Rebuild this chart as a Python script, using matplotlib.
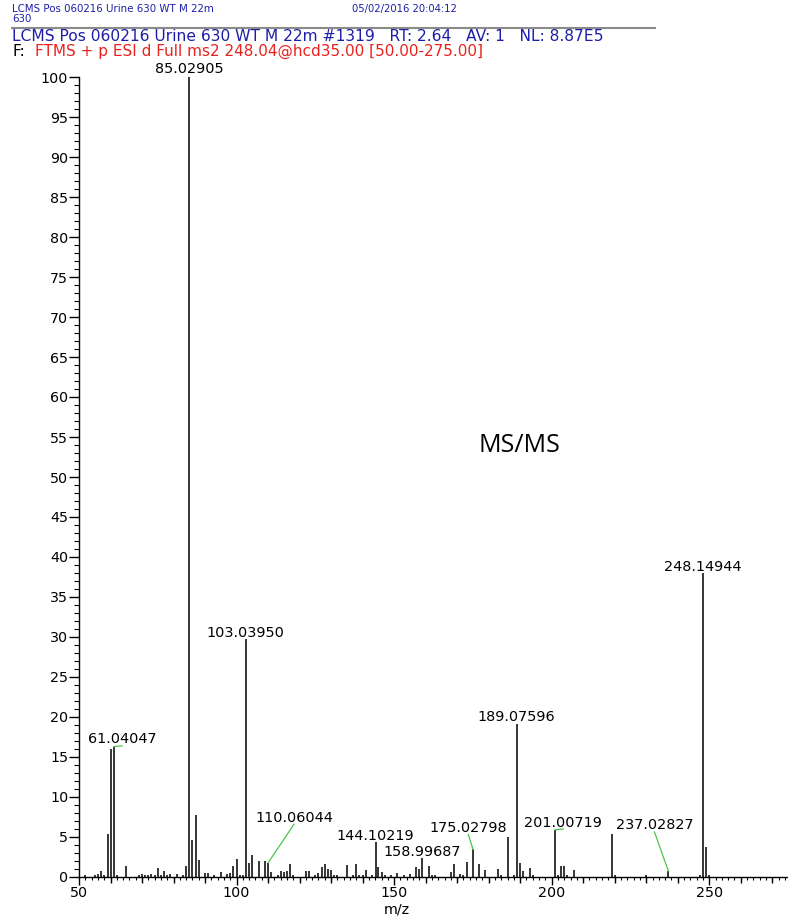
import matplotlib
matplotlib.use("Agg")
import matplotlib.pyplot as plt
from matplotlib.lines import Line2D
from matplotlib.ticker import MultipleLocator, FixedLocator

# spectrum peaks: m/z and relative abundance
mz = [51.9, 55.1, 56.1, 57.0, 58.0, 59.05, 60.04, 61.04047, 62.0, 65.0,
      69.0, 70.0, 71.0, 72.0, 73.0, 74.0, 75.0, 76.0, 77.0, 78.0,
      79.0, 81.0, 83.0, 84.0, 85.02905, 86.0, 87.0, 88.0, 90.0, 91.0,
      93.0, 95.0, 97.0, 98.0, 99.0, 100.0, 101.0, 102.0, 103.0395, 104.0,
      105.0, 107.0, 109.0, 110.06044, 111.0, 113.0, 114.0, 115.0, 116.0, 117.0,
      118.0, 122.0, 123.0, 125.0, 126.0, 127.0, 128.0, 129.0, 130.0, 131.0,
      132.0, 135.0, 137.0, 138.0, 139.0, 140.0, 141.0, 143.0, 144.10219, 145.0,
      146.0, 147.0, 149.0, 151.0, 153.0, 155.0, 157.0, 158.0, 158.99687, 161.0,
      162.0, 163.0, 168.0, 169.0, 171.0, 172.0, 173.0, 175.02798, 177.0, 179.0,
      183.0, 184.0, 186.0, 188.0, 189.07596, 190.0, 191.0, 193.0, 194.0,
      201.00719, 202.0, 203.0, 204.0, 205.0, 207.0, 219.0, 220.0, 230.0,
      237.02827, 247.0, 248.14944, 249.0, 250.0]
intensity = [0.3, 0.2, 0.4, 0.8, 0.2, 5.4, 16.0, 16.3, 0.2, 1.4,
             0.3, 0.4, 0.2, 0.3, 0.4, 0.3, 1.1, 0.3, 0.8, 0.2,
             0.4, 0.4, 0.3, 1.4, 100.0, 4.6, 7.8, 2.1, 0.5, 0.5,
             0.3, 0.6, 0.4, 0.5, 1.4, 2.3, 0.3, 0.3, 29.7, 1.7,
             2.7, 2.0, 2.0, 1.8, 0.6, 0.3, 0.7, 0.6, 0.8, 1.6,
             0.3, 0.8, 0.8, 0.3, 0.5, 1.3, 1.6, 1.0, 0.9, 0.3,
             0.2, 1.5, 0.2, 1.6, 0.3, 0.2, 0.9, 0.3, 4.4, 1.2,
             0.6, 0.3, 0.3, 0.5, 0.2, 0.4, 1.3, 1.0, 2.4, 1.4,
             0.3, 0.3, 0.6, 1.6, 0.4, 0.3, 1.9, 3.45, 1.6, 0.9,
             1.0, 0.2, 5.0, 0.2, 19.1, 1.8, 0.8, 1.1, 0.2,
             5.9, 0.3, 1.4, 1.4, 0.3, 0.9, 5.4, 0.3, 0.2,
             0.75, 0.3, 38.0, 3.8, 0.2]

# labelled peaks and where their labels sit (m/z, baseline abundance)
label_mz = [85.02905, 103.0395, 61.04047, 110.06044, 144.10219, 158.99687,
            175.02798, 189.07596, 201.00719, 237.02827, 248.14944]
label_int = [100.0, 29.7, 16.3, 1.8, 4.4, 2.4, 3.45, 19.1, 5.9, 0.75, 38.0]
label_text = ["85.02905", "103.03950", "61.04047", "110.06044", "144.10219",
              "158.99687", "175.02798", "189.07596", "201.00719", "237.02827",
              "248.14944"]
label_x = [84.95, 102.9, 63.65, 118.25, 144.1, 158.8, 173.55, 188.7, 203.65, 232.6, 248.0]
label_y = [100.5, 30.0, 16.7, 6.9, 4.6, 2.6, 5.6, 19.5, 6.3, 5.95, 38.3]
# leader lines (only for labels pushed away from their peak)
leader = [False, False, True, True, False, False, True, False, True, True, False]

BLUE = "#1e1ea8"
RED = "#e8231f"
GREEN = "#4cc44c"
W, H = 788, 919

fig = plt.figure(figsize=(W / 100, H / 100), dpi=100)
ax = fig.add_axes([79 / W, 42 / H, 709 / W, 800 / H])

ax.vlines(mz, 0, intensity, color="black", lw=1.1)

for x, y, t, px, py, ld in zip(label_x, label_y, label_text, label_mz, label_int, leader):
    ax.text(x, y, t, ha="center", va="baseline", fontsize=10.4, color="black")
    if ld:
        ax.plot([x, px], [y - 0.3, py], color=GREEN, lw=0.9)

ax.set_xlim(50, 275)
ax.set_ylim(0, 100)
ax.spines["top"].set_visible(False)
ax.spines["right"].set_visible(False)
ax.spines["left"].set_linewidth(1.0)
ax.spines["bottom"].set_linewidth(1.0)

ax.xaxis.set_major_locator(FixedLocator([50, 100, 150, 200, 250]))
ax.xaxis.set_minor_locator(MultipleLocator(2))
ax.yaxis.set_major_locator(MultipleLocator(5))
ax.yaxis.set_minor_locator(MultipleLocator(1))
ax.tick_params(axis="x", which="major", length=5.5, width=1.0, pad=1, labelsize=10.3)
ax.tick_params(axis="x", which="minor", length=2.4, width=0.8)
ax.tick_params(axis="y", which="major", length=7.2, width=1.0, pad=0.5, labelsize=10.3)
ax.tick_params(axis="y", which="minor", length=3.4, width=0.8)

# intermediate ticks every 10
sec = ax.secondary_xaxis("bottom")
sec.set_xticks([t for t in range(60, 275, 10) if t % 50])
sec.tick_params(length=4.3, width=1.0, labelbottom=False)
sec.spines["bottom"].set_visible(False)

ax.set_xlabel("m/z", fontsize=10.3, va="center")
ax.xaxis.set_label_coords(0.4485, -0.041)


def ftext(x, y, s, **kw):
    fig.text(x / W, 1 - y / H, s, va="center", ha="left", **kw)


fig.text(519 / W, 1 - 446 / H, "MS/MS", family="Open Sans", fontsize=18,
         ha="center", va="center")

# header
ftext(12, 9, "LCMS Pos 060216 Urine 630 WT M 22m", fontsize=7.4, color=BLUE)
ftext(12, 19, "630", fontsize=7.4, color=BLUE)
ftext(352, 9, "05/02/2016 20:04:12", fontsize=7.2, color=BLUE)
fig.add_artist(Line2D([12 / W, 655 / W], [1 - 27.5 / H] * 2, color="#8a8a8a", lw=1.5))
ftext(12, 36.5, "LCMS Pos 060216 Urine 630 WT M 22m #1319   RT: 2.64   AV: 1   NL: 8.87E5",
      fontsize=11.2, color=BLUE)
ftext(12, 51.5, "F:", fontsize=11.0, color="black")
ftext(35, 51.5, "FTMS + p ESI d Full ms2 248.04@hcd35.00 [50.00-275.00]", fontsize=11.0, color=RED)

fig.savefig("out.png", dpi=100)
